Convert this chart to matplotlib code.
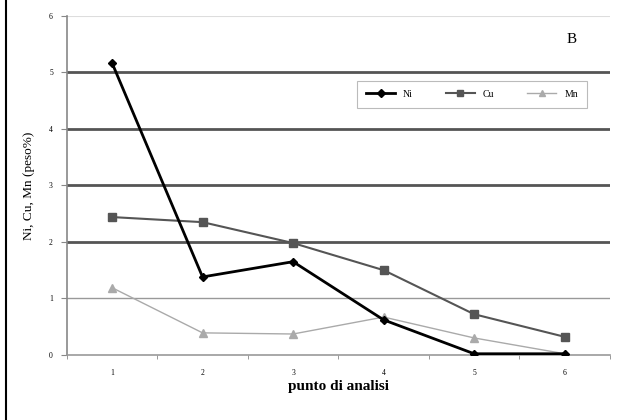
import numpy as np
import matplotlib.pyplot as plt
from matplotlib.lines import Line2D

# dati
punti = [1, 2, 3, 4, 5, 6]
ni = [5.17, 1.38, 1.65, 0.62, 0.02, 0.02]
cu = [2.44, 2.35, 1.98, 1.50, 0.72, 0.32]
mn = [1.19, 0.39, 0.37, 0.67, 0.30, 0.02]
yticks = [0, 1, 2, 3, 4, 5, 6]

plt.rcParams['font.family'] = ['Liberation Serif', 'DejaVu Serif']

fig = plt.figure(figsize=(6.18, 4.2), dpi=100)
ax = fig.add_axes([0.108, 0.155, 0.879, 0.807])

# griglia: linee diverse come nell'originale
grid_style = {1: ('#999999', 1.0), 2: ('#555555', 2.0), 3: ('#555555', 2.0),
              4: ('#555555', 2.0), 5: ('#555555', 2.0), 6: ('#dddddd', 1.5)}
for v, (c, lw) in grid_style.items():
    ax.axhline(v, color=c, lw=lw, zorder=1)

ax.plot(punti, ni, color='black', lw=2.0, marker='D', ms=4.5, label='Ni', zorder=4)
ax.plot(punti, cu, color='#555555', lw=1.5, marker='s', ms=6, label='Cu', zorder=3)
ax.plot(punti, mn, color='#aaaaaa', lw=1.0, marker='^', ms=6, label='Mn', zorder=2)

ax.set_xlim(0.5, 6.5)
ax.set_ylim(0, 6)
ax.set_yticks(yticks)
ax.set_xticks(punti)
ax.set_xticks(np.arange(0.5, 7, 1), minor=True)
ax.tick_params(axis='x', which='major', length=0, labelsize=5.5, pad=10)
ax.tick_params(axis='x', which='minor', length=3, color='#888888')
ax.tick_params(axis='y', length=4, color='#888888', labelsize=5.5, pad=6)

for s in ['top', 'right']:
    ax.spines[s].set_visible(False)
ax.spines['left'].set_color('#888888')
ax.spines['left'].set_linewidth(1.2)
ax.spines['bottom'].set_color('#999999')
ax.spines['bottom'].set_linewidth(1.2)

ax.set_xlabel('punto di analisi', fontsize=11, fontweight='bold', labelpad=2)
ax.set_ylabel('Ni, Cu, Mn (peso%)', fontsize=9.5, labelpad=10)

ax.text(0.93, 0.93, 'B', transform=ax.transAxes, fontsize=11, ha='center', va='center')

leg = ax.legend(loc='upper right', bbox_to_anchor=(0.966, 0.822), ncol=3, fontsize=7,
                frameon=True, fancybox=False, edgecolor='#aaaaaa', handlelength=3,
                columnspacing=3.4, borderpad=0.9, markerscale=0.8)
leg.get_frame().set_linewidth(0.8)

# bordo nero a sinistra
fig.add_artist(Line2D([0.009, 0.009], [0, 1], color='black', lw=1.5, transform=fig.transFigure))

fig.savefig('out.png', dpi=100)
